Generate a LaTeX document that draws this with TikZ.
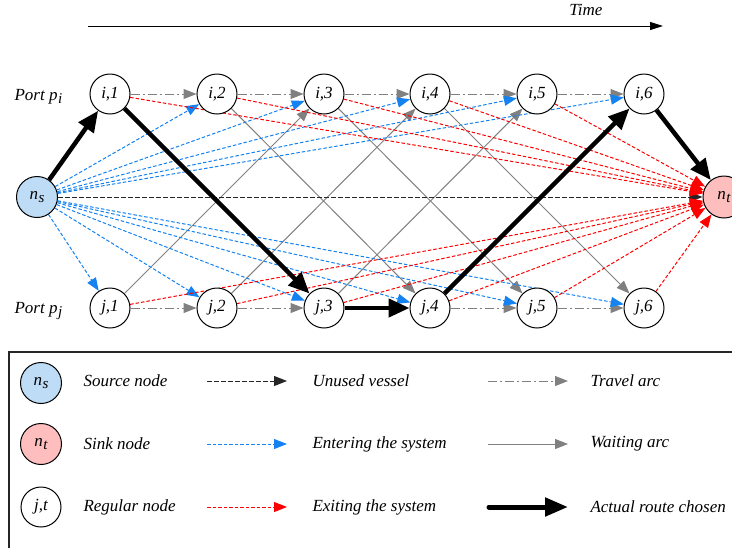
\documentclass[tikz,border=0pt]{standalone}
\usepackage{fontspec}
\setmainfont{Liberation Serif}
\usetikzlibrary{arrows.meta,backgrounds}
\definecolor{cblue}{RGB}{20,130,240}
\definecolor{sfill}{RGB}{190,220,245}
\definecolor{tfill}{RGB}{255,190,190}
\newcommand{\mysub}[2]{#1\kern0.5pt\raisebox{-0.35ex}{\fontsize{15}{16}\selectfont #2}}
\begin{document}
\begin{tikzpicture}[x=1pt,y=-1pt,
  every node/.style={font=\fontsize{17}{20}\selectfont\itshape},
  vnode/.style={circle,draw,line width=1pt,minimum size=40pt,inner sep=0pt,fill=white},
  tip/.style={-{Triangle[length=13pt,width=10pt]}},
  travel/.style={tip,gray,line width=1pt,dash pattern=on 9pt off 3pt on 2pt off 3pt},
  wait/.style={tip,gray,line width=1pt},
  enter/.style={tip,cblue,line width=1pt,dash pattern=on 3.5pt off 2pt},
  exitarc/.style={tip,red,line width=1pt,dash pattern=on 3.5pt off 2pt},
  unused/.style={tip,black!85,line width=1pt,dash pattern=on 4.5pt off 2.5pt},
  route/.style={line width=4.5pt,-{Triangle[length=21pt,width=18pt]}},
  legtext/.style={anchor=west},
]
\useasboundingbox (0,0) rectangle (732,547);
% time axis
\coordinate (t0) at (88,26);
\coordinate (t1) at (663,26);
\draw[line width=1pt,-{Triangle[length=13pt,width=8pt]}] (t0) -- (t1);
\node (time) at (586,10) {Time};
% port labels
\node[anchor=west] (pi) at (11,97) {Port \mysub{p}{i}};
\node[anchor=west] (pj) at (11,311) {Port \mysub{p}{j}};
% nodes
\foreach \k/\x in {1/110,2/217,3/324,4/430,5/537,6/644}{
  \node[vnode] (i\k) at (\x,94) {i,\k};
  \node[vnode] (j\k) at (\x,308) {j,\k};
}
\node[vnode,fill=sfill,minimum size=41pt] (ns) at (37,197) {\mysub{n}{s}};
\node[vnode,fill=tfill,minimum size=42pt] (nt) at (724,197) {\mysub{n}{t}};
% arcs
\begin{scope}[on background layer]
  % waiting arcs
  \foreach \a/\b in {i2/j4,i3/j5,i4/j6,j1/i3,j2/i4,j3/i5}
    \draw[wait] (\a) -- (\b);
  % travel arcs
  \foreach \a/\b in {i1/i2,i2/i3,i3/i4,i4/i5,i5/i6,j1/j2,j2/j3,j4/j5,j5/j6}
    \draw[travel] (\a) -- (\b);
  % unused vessel
  \draw[unused] (ns) -- (nt);
  % entering
  \foreach \b in {i2,i3,i4,i5,i6,j1,j2,j3,j4,j5,j6}
    \draw[enter] (ns) -- (\b);
  % exiting
  \foreach \a in {i1,i2,i3,i4,i5,j1,j2,j3,j4,j5,j6}
    \draw[exitarc] (\a) -- (nt);
  % actual route
  \draw[route] (ns) -- (i1);
  \draw[route] (i1) -- (j3);
  \draw[route] (j3) -- (j4);
  \draw[route] (j4) -- (i6);
  \draw[route] (i6) -- (nt);
\end{scope}
% legend
\draw[line width=1.2pt,black!85] (9,352) rectangle (745,560);
\node[vnode,fill=sfill,minimum size=41pt] (ls) at (41,383) {\mysub{n}{s}};
\node[vnode,fill=tfill,minimum size=41pt] (lt) at (41,444) {\mysub{n}{t}};
\node[vnode] (lr) at (41,507) {j,t};
\node[legtext] (ts) at (80,381) {Source node};
\node[legtext] (tt) at (80,444) {Sink node};
\node[legtext] (tr) at (80,507) {Regular node};
\coordinate (a1s) at (207,381); \coordinate (a1e) at (287,381);
\coordinate (a2s) at (207,444); \coordinate (a2e) at (287,444);
\coordinate (a3s) at (207,507); \coordinate (a3e) at (287,507);
\draw[unused] (a1s) -- (a1e);
\draw[enter] (a2s) -- (a2e);
\draw[exitarc] (a3s) -- (a3e);
\node[legtext] (tu) at (309,381) {Unused vessel};
\node[legtext] (te) at (309,444) {Entering the system};
\node[legtext] (tx) at (309,507) {Exiting the system};
\coordinate (b1s) at (488,381); \coordinate (b1e) at (568,381);
\coordinate (b2s) at (488,444); \coordinate (b2e) at (568,444);
\coordinate (b3s) at (489,507); \coordinate (b3e) at (568,507);
\draw[travel] (b1s) -- (b1e);
\draw[wait] (b2s) -- (b2e);
\draw[line width=5pt,line cap=round,-{Triangle[length=23pt,width=18pt]}] (b3s) -- (b3e);
\node[legtext] (tv) at (587,381) {Travel arc};
\node[legtext] (tw) at (587,444) {Waiting arc};
\node[legtext] (ta) at (587,507) {Actual route chosen};
\end{tikzpicture}
\end{document}
